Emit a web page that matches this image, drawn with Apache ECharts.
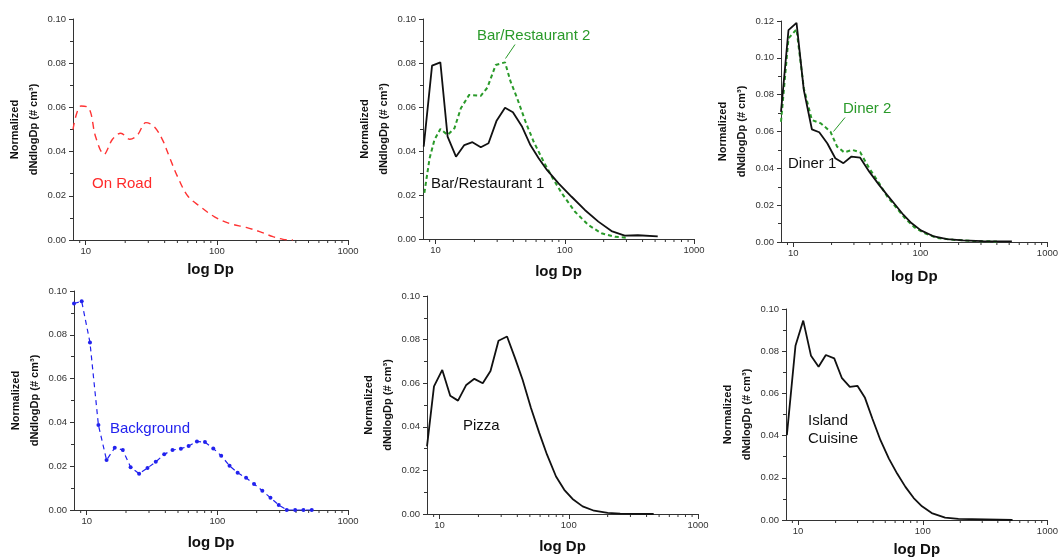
<!DOCTYPE html>
<html><head><meta charset="utf-8">
<script src="https://cdn.jsdelivr.net/npm/echarts@6/dist/echarts.min.js"></script>
<style>html,body{margin:0;padding:0;background:#fff;}#c{width:1061px;height:559px;}</style>
</head><body><div id="c"></div>
<script>
// ---- tick values ----
const xTickValues = [10, 100, 1000];
const xMinorTicks = [9, 20, 30, 40, 50, 60, 70, 80, 90, 200, 300, 400, 500, 600, 700, 800, 900];

// ---- data (Dp in nm, normalized dN/dlogDp) ----
const onRoadDp = [8.0, 9.2, 10.6, 11.9, 13.8, 16.0, 18.5, 21.7, 24.8, 28.8, 33.3, 38.6, 43.4, 50.2, 60, 73.6, 96, 125, 167, 212, 268, 320, 380];
const onRoadN  = [0.050, 0.0606, 0.0596, 0.0467, 0.0388, 0.0456, 0.0483, 0.0456, 0.0475, 0.0531, 0.0513, 0.0452, 0.0377, 0.0286, 0.0199, 0.0154, 0.0105, 0.0075, 0.0057, 0.0038, 0.0015, 0.0003, 0];

const bar1Dp = [8.1, 9.4, 10.9, 12.4, 14.4, 16.7, 19.3, 22.4, 25.7, 29.6, 34.5, 39.7, 46.8, 54.2, 62.8, 72.8, 89.5, 113, 143, 182, 230, 291, 368, 524];
const bar1N  = [0.042, 0.0788, 0.0803, 0.0465, 0.0374, 0.0427, 0.044, 0.0417, 0.0435, 0.0536, 0.0597, 0.0576, 0.051, 0.0427, 0.0367, 0.0314, 0.0253, 0.0192, 0.0132, 0.0079, 0.0036, 0.0015, 0.0017, 0.0012];

const bar2Dp = [8.2, 9.0, 9.8, 10.9, 12.4, 14.0, 15.7, 18.2, 22.4, 25.2, 29.2, 34.5, 38.1, 42.8, 49.7, 57.5, 68.7, 79.5, 94.8, 120, 152, 192, 244, 299];
const bar2N  = [0.021, 0.0367, 0.045, 0.050, 0.0473, 0.0503, 0.0594, 0.0655, 0.0651, 0.0688, 0.0791, 0.0803, 0.0715, 0.064, 0.0533, 0.0442, 0.0351, 0.0283, 0.0208, 0.0124, 0.0064, 0.0026, 0.001, 0.0006];

const diner1Dp = [8.0, 9.16, 10.6, 12.1, 14.0, 16.0, 18.5, 21.4, 24.8, 28.7, 33.6, 39.6, 47.3, 54.7, 63.4, 73.4, 85, 101, 128, 162, 217, 308, 525];
const diner1N  = [0.0707, 0.115, 0.119, 0.0825, 0.0612, 0.0596, 0.0536, 0.0455, 0.0428, 0.0464, 0.0458, 0.0382, 0.031, 0.0256, 0.0202, 0.0148, 0.0103, 0.0063, 0.003, 0.0016, 0.0009, 0.0005, 0.0003];

const diner2Dp = [8.0, 9.16, 10.6, 12.1, 14.0, 16.5, 19.6, 22.1, 25.1, 29.2, 33.6, 39.6, 47.3, 54.7, 63.4, 75.5, 90, 107, 136, 182, 270, 400];
const diner2N  = [0.0653, 0.1105, 0.1155, 0.0834, 0.0662, 0.0644, 0.0599, 0.0518, 0.0487, 0.050, 0.0487, 0.040, 0.032, 0.0248, 0.0193, 0.013, 0.0079, 0.0049, 0.0022, 0.0012, 0.0005, 0.0003];

const bgDp = [8.0, 9.16, 10.6, 12.3, 14.2, 16.4, 18.9, 21.7, 25.2, 29.2, 33.8, 39.2, 45.4, 52.6, 60.3, 69.8, 80.4, 93.1, 107, 124, 143, 166, 191, 221, 255, 295, 340, 394, 456, 528];
const bgN  = [0.0943, 0.0953, 0.0765, 0.0388, 0.0228, 0.0284, 0.0274, 0.0195, 0.0166, 0.0192, 0.022, 0.0254, 0.0274, 0.028, 0.0292, 0.0313, 0.031, 0.0281, 0.0248, 0.0202, 0.017, 0.0147, 0.0119, 0.0088, 0.0056, 0.0023, 0, 0, 0, 0];

const pizzaDp = [8.0, 9.06, 10.5, 12.1, 13.9, 16.1, 18.6, 21.6, 24.8, 28.6, 33.3, 38.4, 44, 51, 59.2, 67.9, 79.7, 92.3, 107, 128, 157, 200, 250, 454];
const pizzaN  = [0.031, 0.0585, 0.0661, 0.0542, 0.052, 0.0592, 0.062, 0.060, 0.0656, 0.0795, 0.0814, 0.0715, 0.0615, 0.0486, 0.0371, 0.0272, 0.0172, 0.0111, 0.0069, 0.0035, 0.0015, 0.0005, 0.0002, 0];

const islandDp = [8.13, 9.53, 11.0, 12.7, 14.6, 16.7, 19.5, 22.4, 26, 29.9, 34.4, 39.4, 45.8, 53.5, 62.3, 72.6, 84.6, 98.6, 118, 151, 193, 525];
const islandN  = [0.0402, 0.0826, 0.0945, 0.0778, 0.0726, 0.0782, 0.0766, 0.0674, 0.0631, 0.0636, 0.0579, 0.0481, 0.0378, 0.0291, 0.022, 0.0157, 0.0104, 0.0065, 0.0033, 0.0011, 0.0005, 0];

// ---- layout ----
const FONT = "'Liberation Sans', Arial, Helvetica, sans-serif";
const panels = [
  {left: 73,  top: 19,  width: 275, height: 221, ymax: 0.10, xGap: 22},
  {left: 423, top: 19,  width: 271, height: 220, ymax: 0.10, xGap: 25},
  {left: 781, top: 21,  width: 275, height: 221, ymax: 0.12, xGap: 27},
  {left: 74,  top: 291, width: 274, height: 219, ymax: 0.10, xGap: 25},
  {left: 427, top: 296, width: 271, height: 218, ymax: 0.10, xGap: 25},
  {left: 786, top: 309, width: 262, height: 211, ymax: 0.10, xGap: 22}
];

const zip = (a, b) => a.map((v, i) => [v, b[i]]);

const grid = [], xAxis = [], yAxis = [], series = [];
panels.forEach((p, i) => {
  grid.push({left: p.left, top: p.top, width: p.width, height: p.height, containLabel: false});
  xAxis.push({
    type: 'log', logBase: 10, min: 8, max: 1000, gridIndex: i,
    axisLine: {show: true, lineStyle: {color: '#333', width: 1}},
    axisTick: {show: true, length: 5, customValues: xTickValues, lineStyle: {color: '#333'}},
    axisLabel: {customValues: xTickValues, formatter: v => String(Math.round(v)), fontSize: 9.5, color: '#333', margin: 6, fontFamily: FONT},
    splitLine: {show: false}, minorTick: {show: false},
    name: 'log Dp', nameLocation: 'middle', nameGap: p.xGap,
    nameTextStyle: {fontSize: 15, fontWeight: 'bold', color: '#111', fontFamily: FONT}
  });
  yAxis.push({
    type: 'value', min: 0, max: p.ymax, interval: 0.02, gridIndex: i,
    axisLine: {show: true, lineStyle: {color: '#333', width: 1}},
    axisTick: {show: true, length: 4, lineStyle: {color: '#333'}},
    minorTick: {show: true, splitNumber: 2, length: 3, lineStyle: {color: '#333'}},
    axisLabel: {formatter: v => v.toFixed(2), fontSize: 9.5, color: '#333', margin: 7, fontFamily: FONT},
    splitLine: {show: false},
    name: 'Normalized\ndNdlogDp (# cm³)', nameLocation: 'middle', nameRotate: 90, nameGap: 27,
    nameTextStyle: {fontSize: 11, fontWeight: 'bold', lineHeight: 19, color: '#111', fontFamily: FONT}
  });
  series.push({
    type: 'custom', xAxisIndex: i, yAxisIndex: i, silent: true, clip: false,
    data: xMinorTicks.map(v => [v, 0]),
    renderItem: (params, api) => {
      const c = api.coord([api.value(0), 0]);
      return {type: 'line', shape: {x1: c[0], y1: c[1], x2: c[0], y2: c[1] + 3},
              style: {stroke: '#333', lineWidth: 1}};
    }
  });
});

function lineSeries(idx, name, dp, n, color, width, dash, extra) {
  return Object.assign({
    type: 'line', name, xAxisIndex: idx, yAxisIndex: idx,
    data: zip(dp, n), symbol: 'none', showSymbol: false,
    lineStyle: {color, width, type: dash}, itemStyle: {color}, z: 3
  }, extra || {});
}

series.push(lineSeries(0, 'On Road', onRoadDp, onRoadN, '#ff3333', 1.4, [7, 5], {smooth: 0.35}));
series.push(lineSeries(1, 'Bar/Restaurant 2', bar2Dp, bar2N, '#2a9a2a', 2, [4, 3]));
series.push(lineSeries(1, 'Bar/Restaurant 1', bar1Dp, bar1N, '#111111', 1.8, 'solid'));
series.push(lineSeries(2, 'Diner 2', diner2Dp, diner2N, '#2a9a2a', 2, [4, 3]));
series.push(lineSeries(2, 'Diner 1', diner1Dp, diner1N, '#111111', 1.8, 'solid'));
series.push(lineSeries(3, 'Background', bgDp, bgN, '#2222ee', 1.2, [5, 4],
  {symbol: 'circle', symbolSize: 4, showSymbol: true}));
series.push(lineSeries(4, 'Pizza', pizzaDp, pizzaN, '#111111', 1.8, 'solid'));
series.push(lineSeries(5, 'Island Cuisine', islandDp, islandN, '#111111', 1.8, 'solid'));

function label(text, x, y, fill) {
  return {type: 'text', x, y, z: 10, style: {text, fill, font: '15px ' + FONT, textAlign: 'left', textVerticalAlign: 'middle', verticalAlign: 'middle'}};
}
const graphic = [
  label('On Road', 92, 184, '#ff2a2a'),
  label('Bar/Restaurant 2', 477, 35.5, '#2a9a2a'),
  label('Bar/Restaurant 1', 431, 184, '#111'),
  label('Diner 2', 843, 109, '#2a9a2a'),
  label('Diner 1', 788, 164, '#111'),
  label('Background', 110, 429, '#2222ee'),
  label('Pizza', 463, 425.5, '#111'),
  label('Island', 808, 421, '#111'),
  label('Cuisine', 808, 439, '#111'),
  {type: 'line', z: 10, shape: {x1: 515, y1: 44.5, x2: 505.5, y2: 58.5}, style: {stroke: '#2a9a2a', lineWidth: 1}},
  {type: 'line', z: 10, shape: {x1: 845, y1: 117.5, x2: 833.5, y2: 131.5}, style: {stroke: '#2a9a2a', lineWidth: 1}}
];

const chart = echarts.init(document.getElementById('c'), null, {renderer: 'canvas'});
chart.setOption({
  backgroundColor: '#fff', animation: false,
  textStyle: {fontFamily: FONT},
  grid, xAxis, yAxis, series, graphic
});
</script></body></html>
